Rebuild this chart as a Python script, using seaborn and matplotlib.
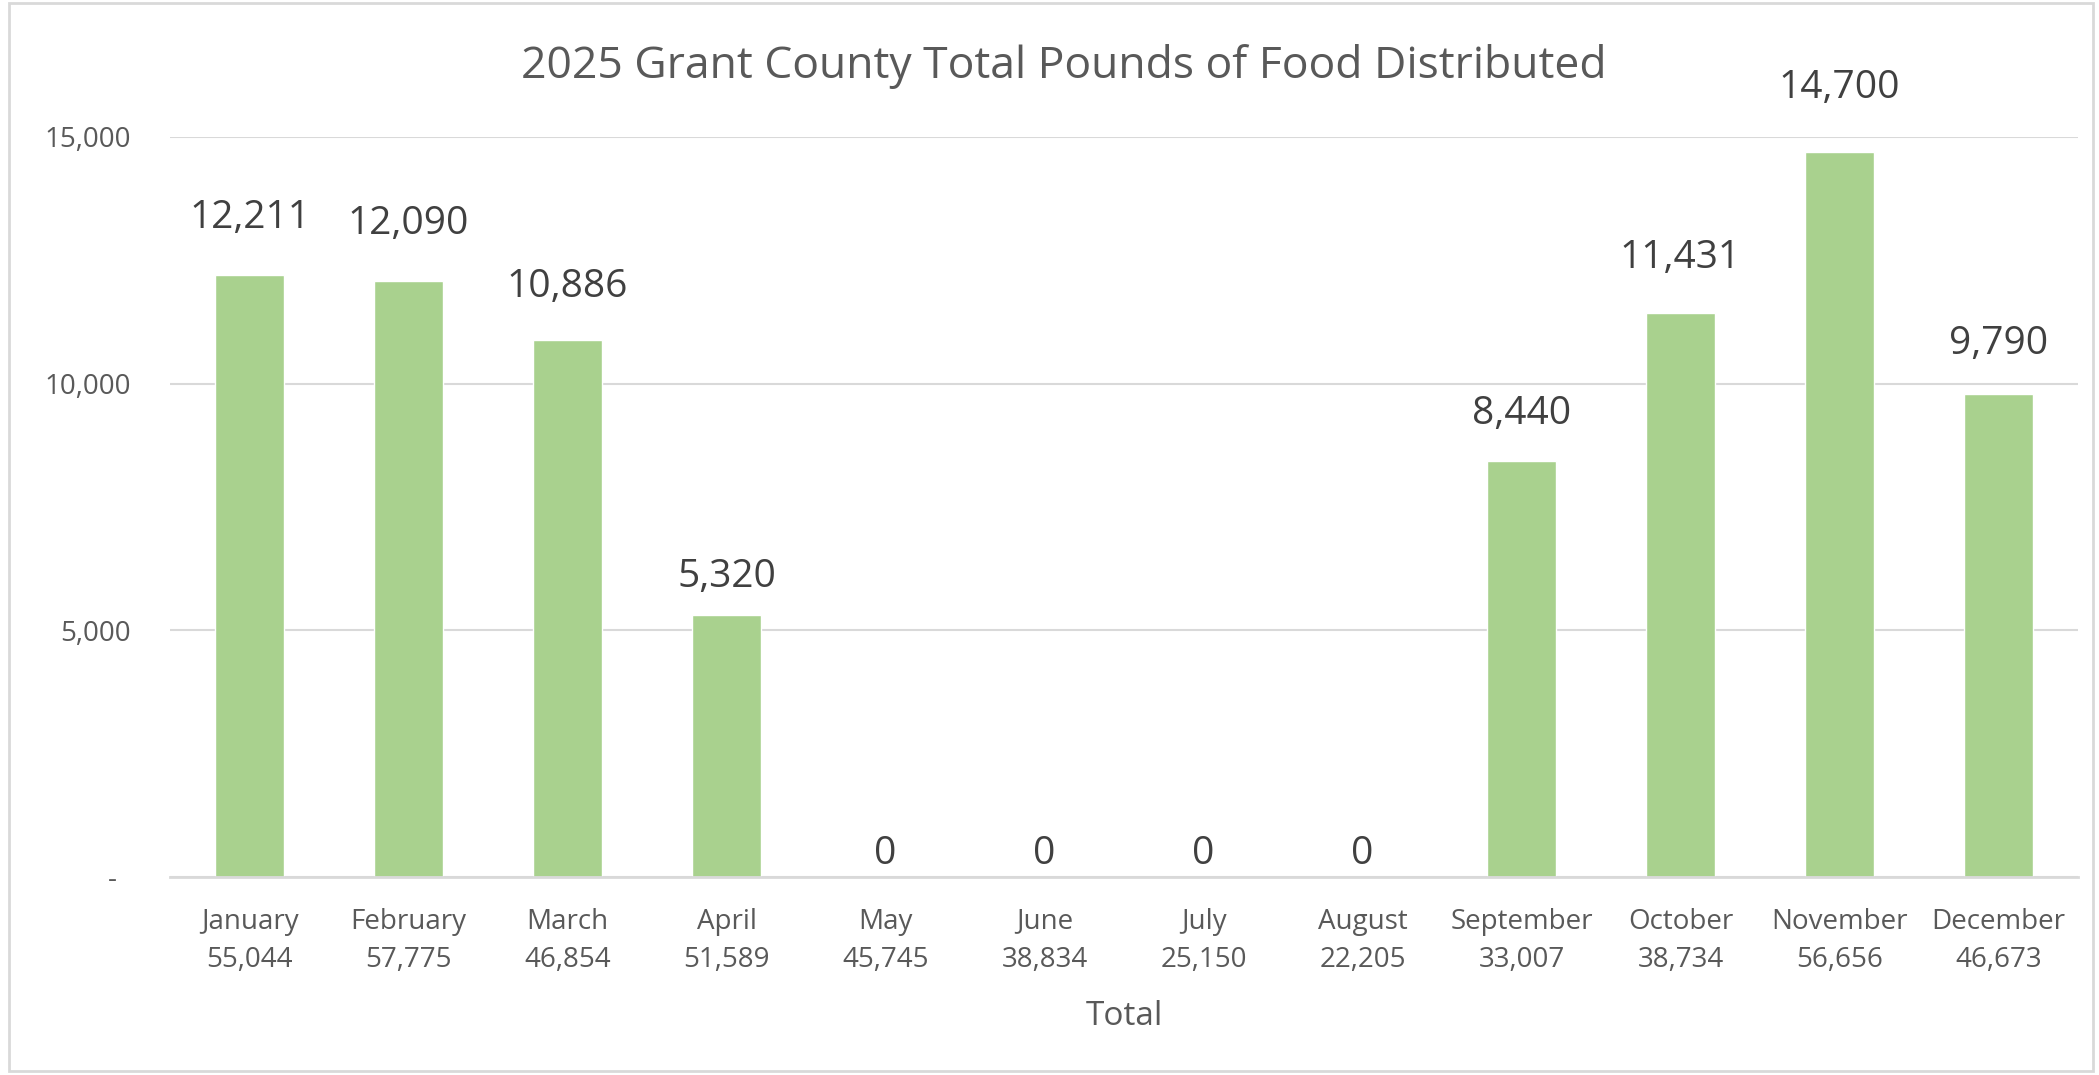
import matplotlib
matplotlib.use("Agg")
import matplotlib.pyplot as plt
import matplotlib.ticker as mticker
from matplotlib.patches import Rectangle
import seaborn as sns
import pandas as pd

# chart data
months = ["January", "February", "March", "April", "May", "June",
          "July", "August", "September", "October", "November", "December"]
month_totals = ["55,044", "57,775", "46,854", "51,589", "45,745", "38,834",
                "25,150", "22,205", "33,007", "38,734", "56,656", "46,673"]
pounds = [12211, 12090, 10886, 5320, 0, 0, 0, 0, 8440, 11431, 14700, 9790]
y_ticks = [0, 5000, 10000, 15000]

df = pd.DataFrame({
    "label": [f"{m}\n{t}" for m, t in zip(months, month_totals)],
    "pounds": pounds,
})

sns.set_theme(style="white")
plt.rcParams["font.family"] = ["Open Sans", "DejaVu Sans"]

text_gray = "#595959"
grid_gray = "#D9D9D9"

fig = plt.figure(figsize=(20.99, 10.75), dpi=100)
ax = fig.add_axes([0.081, 0.1842, 0.909, 0.6884])

sns.barplot(data=df, x="label", y="pounds", color="#A9D18E",
            saturation=1, width=0.44, ax=ax)

ax.set_ylim(0, 15000)
ax.set_yticks(y_ticks)
ax.yaxis.set_major_formatter(mticker.FuncFormatter(
    lambda v, p: "-  " if v == 0 else f"{v:,.0f}"))
ax.grid(axis="y", color=grid_gray, linewidth=1.5)
ax.set_axisbelow(True)

for s in ["left", "right", "top"]:
    ax.spines[s].set_visible(False)
ax.spines["bottom"].set_color(grid_gray)
ax.spines["bottom"].set_linewidth(2)

ax.tick_params(axis="y", length=0, pad=28, labelsize=20, labelcolor=text_gray)
ax.tick_params(axis="x", length=0, pad=22, labelsize=20, labelcolor=text_gray)
for lbl in ax.get_xticklabels():
    lbl.set_linespacing(1.5)

ax.set_xlabel("Total", fontsize=24, color=text_gray, labelpad=19)
ax.set_ylabel("")

# data labels above each bar
for i, v in enumerate(pounds):
    ax.text(i, v * 1.056 + 470, f"{v:,}", ha="center", va="center",
            fontsize=28, color="#404040", clip_on=False)

fig.text(0.507, 0.938, "2025 Grant County Total Pounds of Food Distributed",
         ha="center", va="center", fontsize=32, color=text_gray)

# light chart border
fig.patches.append(Rectangle((0.0045, 0.004), 0.9925, 0.993,
                             transform=fig.transFigure, fill=False,
                             edgecolor=grid_gray, linewidth=2))

fig.savefig("out.png", dpi=100)
